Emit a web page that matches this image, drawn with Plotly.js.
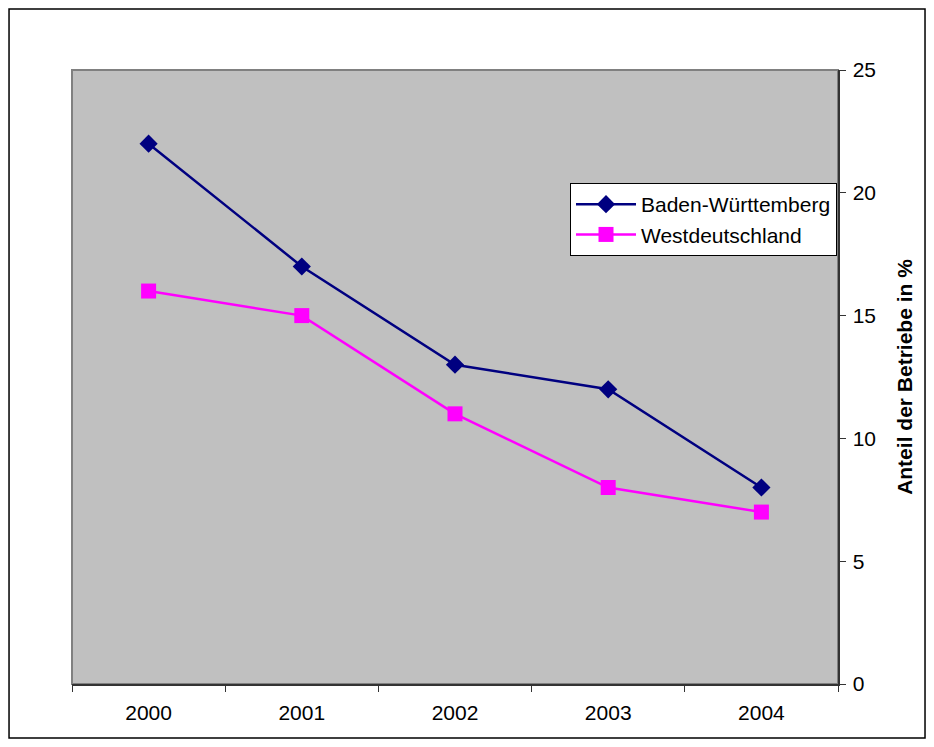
<!DOCTYPE html>
<html>
<head>
<meta charset="utf-8">
<script src="https://cdn.plot.ly/plotly-3.0.1.min.js"></script>
<style>
  html, body { margin: 0; padding: 0; background: #ffffff; }
  #chart { width: 934px; height: 747px; }
</style>
</head>
<body>
<div id="chart"></div>
<script>
// Share of establishments (%) per year
const years = ['2000', '2001', '2002', '2003', '2004'];
const badenWuerttemberg = [22, 17, 13, 12, 8];
const westdeutschland = [16, 15, 11, 8, 7];
const yTicks = [0, 5, 10, 15, 20, 25];

const family = 'Liberation Sans, Arial, sans-serif';
const font = { family: family, size: 21, color: '#000000' };

const traces = [
  {
    type: 'scatter',
    mode: 'lines+markers',
    name: 'Baden-Württemberg',
    x: years,
    y: badenWuerttemberg,
    line: { color: '#000080', width: 2.5 },
    marker: { symbol: 'diamond', size: 14, color: '#000080' }
  },
  {
    type: 'scatter',
    mode: 'lines+markers',
    name: 'Westdeutschland',
    x: years,
    y: westdeutschland,
    line: { color: '#ff00ff', width: 2.5 },
    marker: { symbol: 'square', size: 15, color: '#ff00ff' }
  }
];

const layout = {
  width: 934,
  height: 747,
  margin: { l: 72, r: 96, t: 70, b: 63 },
  paper_bgcolor: '#ffffff',
  plot_bgcolor: '#c0c0c0',
  font: font,
  showlegend: true,
  legend: {
    x: 0.9987, xanchor: 'right',
    y: 0.816, yanchor: 'top',
    bgcolor: '#ffffff',
    bordercolor: '#000000',
    borderwidth: 1,
    font: font,
    tracegroupgap: 0,
    itemwidth: 60
  },
  xaxis: {
    type: 'category',
    range: [-0.5, 4.5],
    tickson: 'boundaries',
    ticks: 'outside',
    ticklen: 6,
    tickcolor: '#333333',
    showgrid: false,
    zeroline: false,
    showline: true,
    linecolor: '#333333',
    linewidth: 1.5,
    tickfont: font,
    ticklabelstandoff: 9,
    fixedrange: true
  },
  yaxis: {
    side: 'right',
    range: [0, 25],
    tickvals: yTicks,
    ticktext: yTicks.map(String),
    ticks: 'outside',
    ticklen: 6,
    tickcolor: '#333333',
    showgrid: false,
    zeroline: false,
    showline: true,
    linecolor: '#333333',
    linewidth: 1.5,
    tickfont: font,
    ticklabelstandoff: 3,
    title: {
      text: '<b>Anteil der Betriebe in %</b>',
      font: font,
      standoff: 22
    },
    fixedrange: true
  },
  shapes: [
    // plot area frame (top and left edges)
    {
      type: 'rect', xref: 'paper', yref: 'paper',
      x0: 0, x1: 1, y0: 0, y1: 1,
      line: { color: '#808080', width: 2 },
      layer: 'below'
    },
    // outer chart border
    {
      type: 'rect', xref: 'paper', yref: 'paper',
      x0: -0.0822, x1: 1.1136, y0: -0.0879, y1: 1.0993,
      line: { color: '#000000', width: 1.5 },
      layer: 'above'
    }
  ]
};

Plotly.newPlot('chart', traces, layout, { displayModeBar: false, staticPlot: true });
</script>
</body>
</html>
